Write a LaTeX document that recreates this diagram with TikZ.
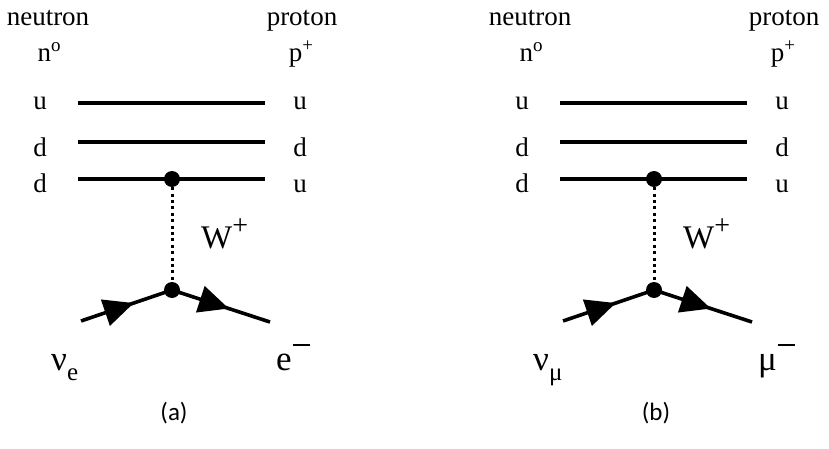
\documentclass[tikz,border=0pt]{standalone}
\usepackage{fontspec}
\setmainfont{Liberation Serif}
\newfontfamily\capfont{Carlito}
\usetikzlibrary{arrows.meta, decorations.markings, positioning}
\tikzset{
  quark/.style  = {line width=3.6pt},
  ferm/.style   = {line width=3.6pt, postaction={decorate},
                   decoration={markings, mark=at position 0.58 with
                   {\arrow{Triangle[length=30pt,width=27pt]}}}},
  boson/.style  = {line width=3pt, dash pattern=on 3pt off 3.4pt},
  vtx/.style    = {circle, fill=black, inner sep=0pt, minimum size=16pt},
  lbl/.style    = {font=\fontsize{27}{30}\selectfont, inner sep=0pt, anchor=base},
  big/.style    = {font=\fontsize{35}{38}\selectfont, inner sep=0pt, anchor=base west},
  subfig/.style = {font=\capfont\fontsize{25}{28}\selectfont, inner sep=0pt},
}
\newcommand{\sups}[1]{\raisebox{10pt}{\fontsize{19}{19}\selectfont #1}}
\newcommand{\bigsup}[1]{\raisebox{14pt}{\fontsize{28}{28}\selectfont #1}}
\newcommand{\minsup}{\hspace{1pt}\raisebox{24pt}{\rule{17pt}{2.2pt}}}
\newcommand{\subs}[1]{\raisebox{-10pt}{\fontsize{25}{25}\selectfont #1}}

\begin{document}
\begin{tikzpicture}[x=1pt, y=-1pt]
  \useasboundingbox (0,0) rectangle (829,449);

  \foreach \dx/\pn/\neut/\lep/\tag in {%
      0/a/{ν\subs{e}}/{e\minsup}/(a),
      482/b/{ν\subs{μ}}/{μ\minsup}/(b)} {
     % hadrons
     \node[lbl] (neu\pn) at (\dx+48,26) {neutron};
     \node[lbl] (n0\pn)  at (\dx+49,62) {n\sups{o}};
     \node[lbl] (pro\pn) at (\dx+302,26) {proton};
     \node[lbl] (p0\pn)  at (\dx+301,62) {p\sups{+}};
     % quark lines
     \foreach \r/\yl/\yb/\ql/\qr in {1/103/110/u/u, 2/142/157/d/d, 3/179/193/d/u} {
        \node[lbl] (ql\r\pn) at (\dx+40,\yb) {\ql};
        \node[lbl] (qr\r\pn) at (\dx+300,\yb) {\qr};
        \coordinate (qa\r\pn) at (\dx+78,\yl);
        \coordinate (qb\r\pn) at (\dx+265,\yl);
        \draw[quark] (qa\r\pn) -- (qb\r\pn);
     }
     % vertices and W exchange
     \node[vtx] (top\pn) at (\dx+172,179) {};
     \node[vtx] (bot\pn) at (\dx+172,290) {};
     \draw[boson] (top\pn) -- (bot\pn);
     \node[big, font=\fontsize{33}{36}\selectfont] (w\pn) at (\dx+201,248) {W\bigsup{+}};
     % lepton lines
     \coordinate (in\pn)  at (\dx+81,321);
     \coordinate (out\pn) at (\dx+270,322);
     \draw[ferm] (in\pn) -- (bot\pn.center);
     \draw[ferm] (bot\pn.center) -- (out\pn);
     \node[big] (nu\pn) at (\dx+51,370) {\neut};
     \node[big] (l\pn)  at (\dx+276,370) {\lep};
     \node[subfig] (tag\pn) at (\dx+174,413) {\tag};
  }
\end{tikzpicture}
\end{document}
